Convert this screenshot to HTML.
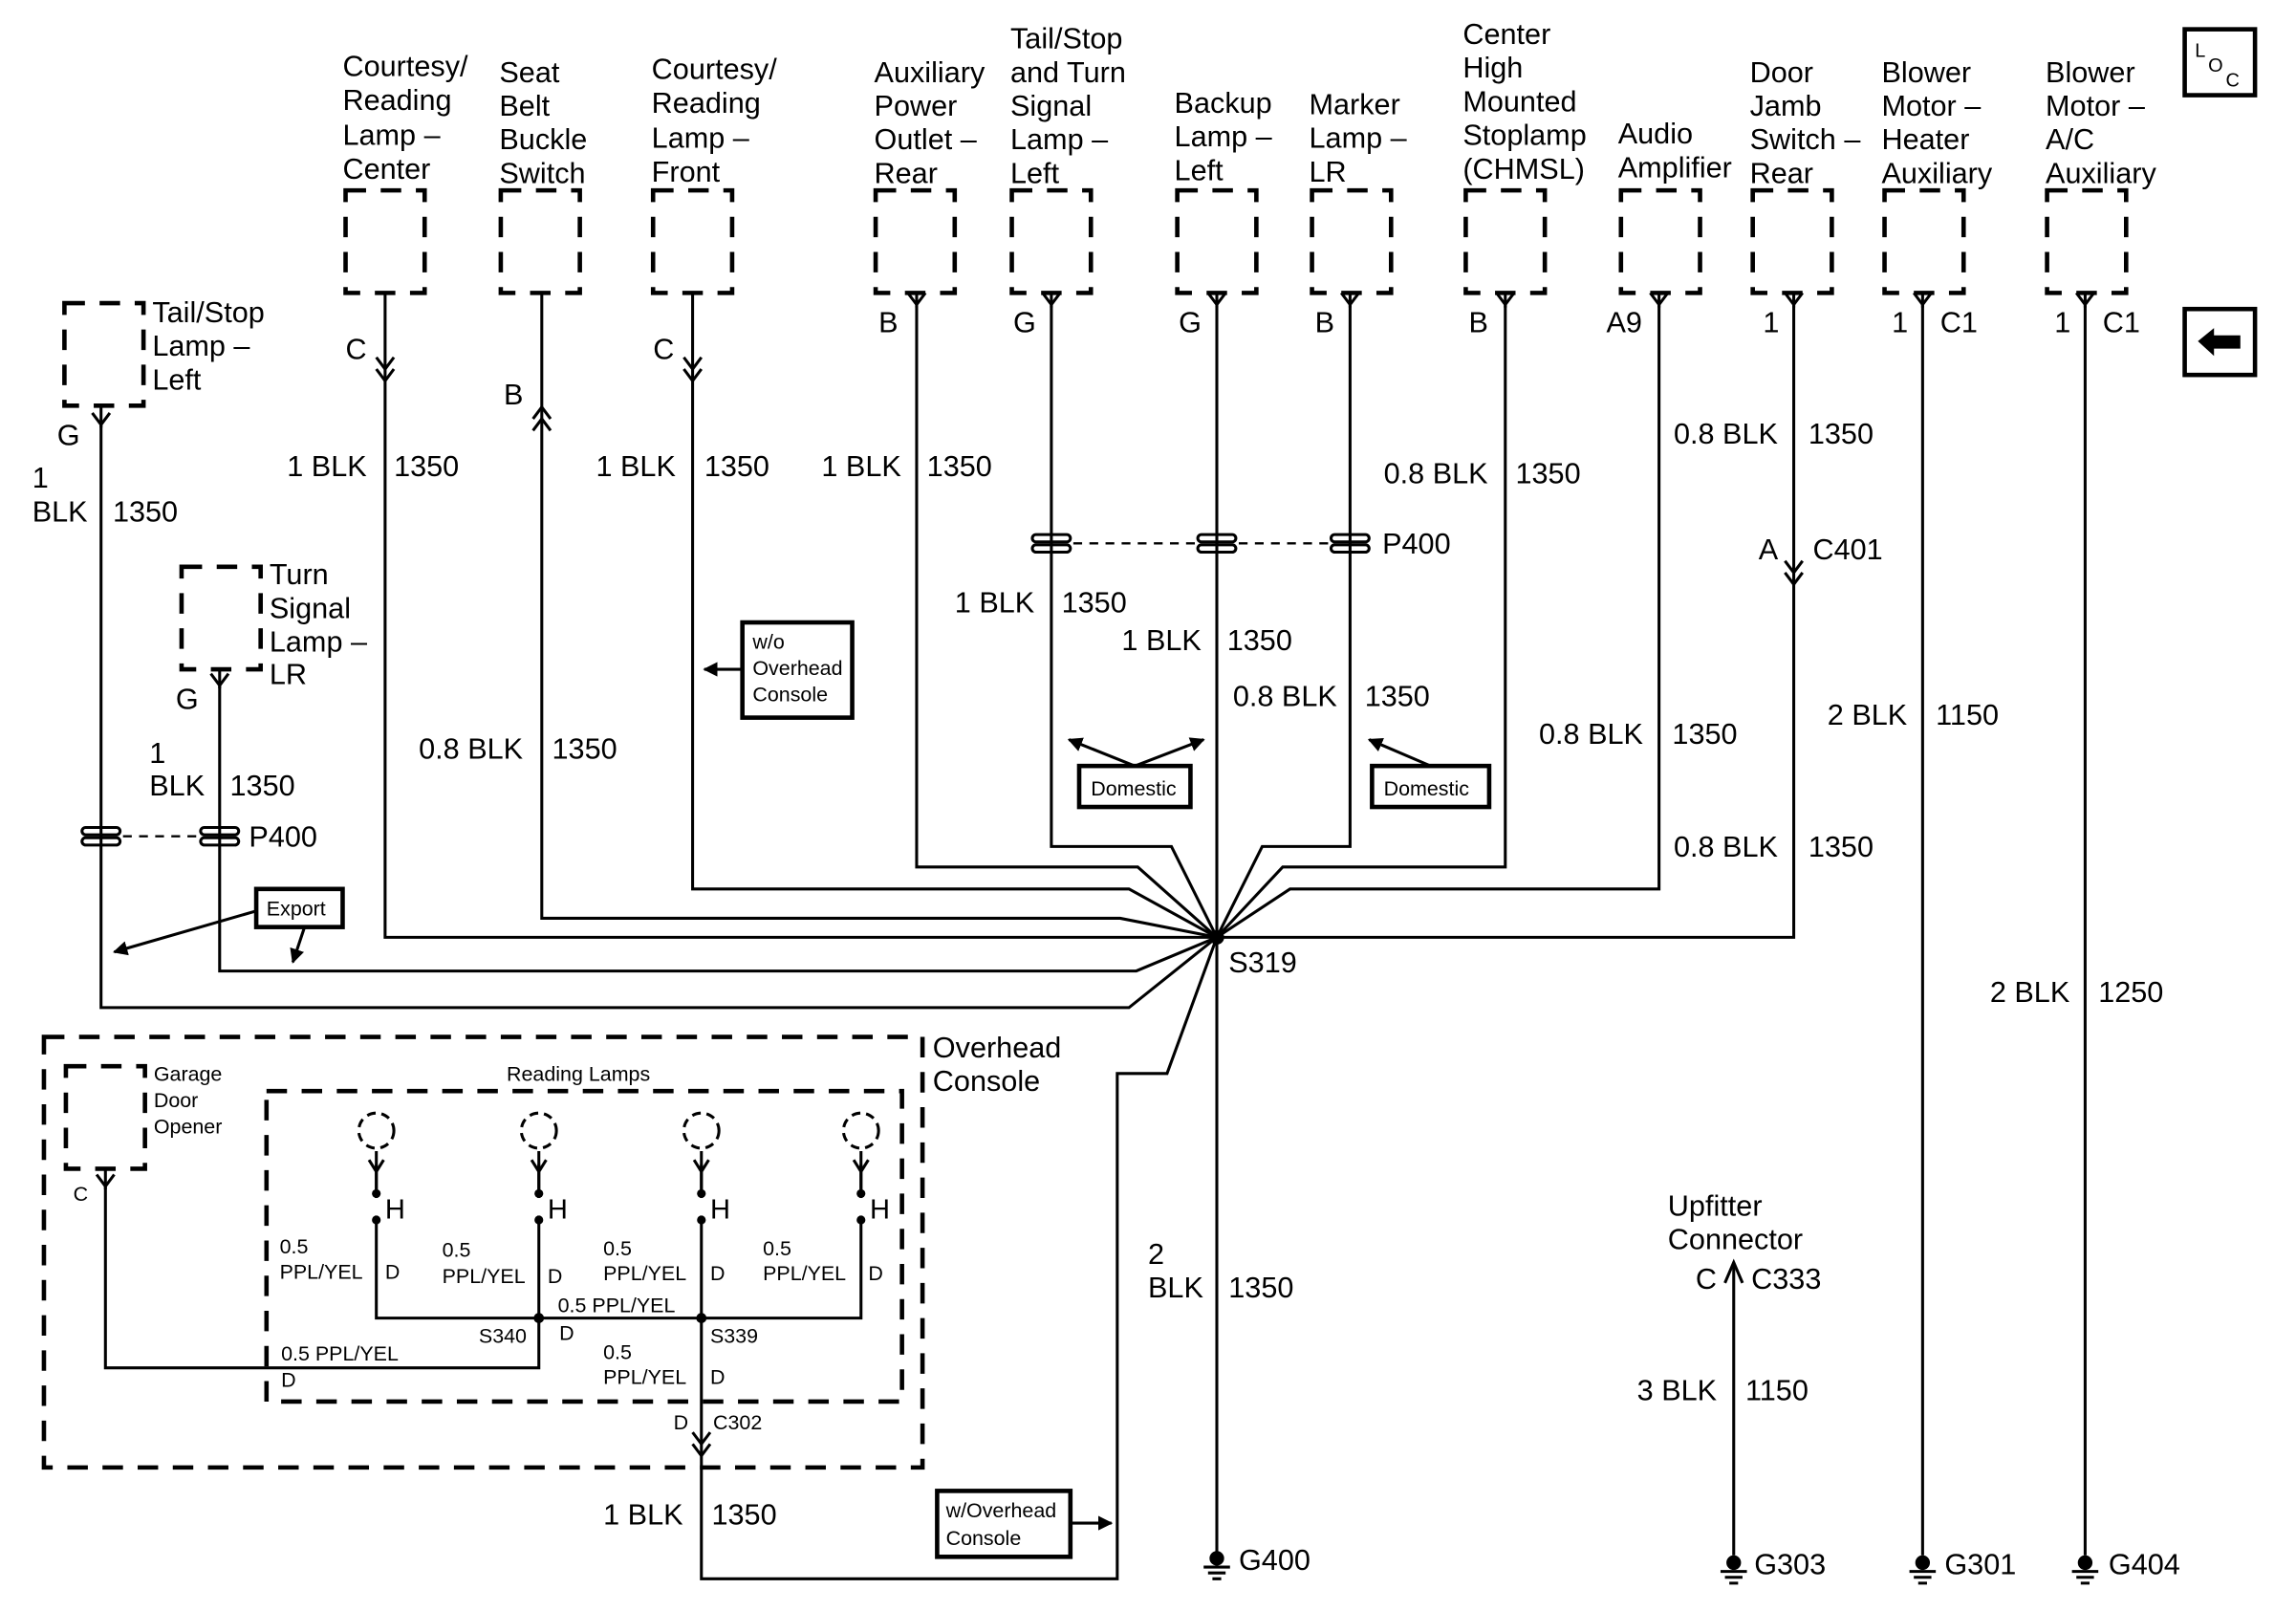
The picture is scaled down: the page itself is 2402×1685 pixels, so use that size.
<!DOCTYPE html>
<html><head><meta charset="utf-8"><style>
html,body{margin:0;padding:0;background:#fff;}
svg{display:block;}
text{font-family:"Liberation Sans",Arial,sans-serif;fill:#000;}
.t{font-size:20px;}
.s{font-size:14px;}
.w{stroke:#000;stroke-width:2;fill:none;}
.d{stroke:#000;stroke-width:3;fill:none;stroke-dasharray:14 10;}
.b{stroke:#000;stroke-width:3;fill:#fff;}
</style></head><body>
<svg width="2402" height="1685" viewBox="0 0 1568 1100" preserveAspectRatio="none" xmlns="http://www.w3.org/2000/svg">
<defs>
<g id="Y"><path d="M-6 -8 L0 0 L6 -8 M0 0 L0 2" class="w"/></g>
<g id="F"><path d="M-6 -14 L0 -6 L6 -14 M-6 -6 L0 2 L6 -6" class="w"/></g>
<g id="U"><path d="M-6 8 L0 0 L6 8 M-6 16 L0 8 L6 16" class="w"/></g>
<g id="P"><rect x="-13" y="-6" width="26" height="5" rx="2.5" class="w"/><rect x="-13" y="1" width="26" height="5" rx="2.5" class="w"/></g>
<g id="G"><circle cx="0" cy="0" r="5" fill="#000"/><path d="M-9 6 H9 M-6 10 H6 M-3 14 H3" class="w"/></g>
<marker id="ar" markerWidth="10" markerHeight="10" refX="9" refY="5" orient="auto" markerUnits="userSpaceOnUse"><path d="M0 0 L10 5 L0 10 Z" fill="#000"/></marker>
</defs>

<g class="d">
<rect x="236" y="130" width="54" height="70"/>
<rect x="342" y="130" width="54" height="70"/>
<rect x="446" y="130" width="54" height="70"/>
<rect x="598" y="130" width="54" height="70"/>
<rect x="691" y="130" width="54" height="70"/>
<rect x="804" y="130" width="54" height="70"/>
<rect x="896" y="130" width="54" height="70"/>
<rect x="1001" y="130" width="54" height="70"/>
<rect x="1107" y="130" width="54" height="70"/>
<rect x="1197" y="130" width="54" height="70"/>
<rect x="1287" y="130" width="54" height="70"/>
<rect x="1398" y="130" width="54" height="70"/>
<rect x="44" y="207" width="54" height="70"/>
<rect x="124" y="387" width="54" height="70"/>
</g>

<g class="t">
<text x="234" y="52">Courtesy/</text><text x="234" y="75">Reading</text><text x="234" y="99">Lamp –</text><text x="234" y="122">Center</text>
<text x="341" y="56">Seat</text><text x="341" y="79">Belt</text><text x="341" y="102">Buckle</text><text x="341" y="125">Switch</text>
<text x="445" y="54">Courtesy/</text><text x="445" y="77">Reading</text><text x="445" y="101">Lamp –</text><text x="445" y="124">Front</text>
<text x="597" y="56">Auxiliary</text><text x="597" y="79">Power</text><text x="597" y="102">Outlet –</text><text x="597" y="125">Rear</text>
<text x="690" y="33">Tail/Stop</text><text x="690" y="56">and Turn</text><text x="690" y="79">Signal</text><text x="690" y="102">Lamp –</text><text x="690" y="125">Left</text>
<text x="802" y="77">Backup</text><text x="802" y="100">Lamp –</text><text x="802" y="123">Left</text>
<text x="894" y="78">Marker</text><text x="894" y="101">Lamp –</text><text x="894" y="124">LR</text>
<text x="999" y="30">Center</text><text x="999" y="53">High</text><text x="999" y="76">Mounted</text><text x="999" y="99">Stoplamp</text><text x="999" y="122">(CHMSL)</text>
<text x="1105" y="98">Audio</text><text x="1105" y="121">Amplifier</text>
<text x="1195" y="56">Door</text><text x="1195" y="79">Jamb</text><text x="1195" y="102">Switch –</text><text x="1195" y="125">Rear</text>
<text x="1285" y="56">Blower</text><text x="1285" y="79">Motor –</text><text x="1285" y="102">Heater</text><text x="1285" y="125">Auxiliary</text>
<text x="1397" y="56">Blower</text><text x="1397" y="79">Motor –</text><text x="1397" y="102">A/C</text><text x="1397" y="125">Auxiliary</text>
<text x="104" y="220">Tail/Stop</text><text x="104" y="243">Lamp –</text><text x="104" y="266">Left</text>
<text x="184" y="399">Turn</text><text x="184" y="422">Signal</text><text x="184" y="445">Lamp –</text><text x="184" y="467">LR</text>
</g>

<rect x="1492" y="20" width="48" height="45" class="b"/>
<text x="1499" y="39" style="font-size:13px">L</text><text x="1508" y="49" style="font-size:13px">O</text><text x="1520" y="59" style="font-size:13px">C</text>
<rect x="1492" y="211" width="48" height="45" class="b"/>
<path d="M1501 233 L1512 224 L1512 229 L1530 229 L1530 238 L1512 238 L1512 243 Z" fill="#000"/>

<g class="w">
<path d="M263 200 V640 H831"/>
<path d="M370 200 V627 H765 L831 640"/>
<path d="M473 200 V607 H771 L831 640"/>
<path d="M626 200 V592 H777 L831 640"/>
<path d="M718 200 V578 H800 L831 640"/>
<path d="M831 200 V1060"/>
<path d="M922 200 V578 H862 L831 640"/>
<path d="M1028 200 V592 H876 L831 640"/>
<path d="M1133 200 V607 H881 L831 640"/>
<path d="M1225 200 V640 H831"/>
<path d="M1313 200 V1062"/>
<path d="M1424 200 V1062"/>
<path d="M69 277 V688 H771 L831 640"/>
<path d="M150 457 V663 H776 L831 640"/>
<path d="M72 798 V934 H368 V902"/>
<path d="M479 985 V1078 H763 V733 H797 L831 640"/>
<path d="M1184 862 V1062"/>
<path d="M257 795 V875 V900 H588 V875 V795"/>
<path d="M368 795 V900"/><path d="M479 795 V985"/>
</g>
<circle cx="831" cy="640" r="5" fill="#000"/>
<circle cx="368" cy="900" r="3.5" fill="#000"/><circle cx="479" cy="900" r="3.5" fill="#000"/>

<use href="#F" x="263" y="258"/><use href="#F" x="473" y="258"/>
<use href="#U" x="370" y="278"/>
<use href="#Y" x="626" y="208"/><use href="#Y" x="718" y="208"/><use href="#Y" x="831" y="208"/><use href="#Y" x="922" y="208"/>
<use href="#Y" x="1028" y="208"/><use href="#Y" x="1133" y="208"/><use href="#Y" x="1225" y="208"/><use href="#Y" x="1313" y="208"/><use href="#Y" x="1424" y="208"/>
<use href="#Y" x="69" y="290"/><use href="#Y" x="150" y="468"/><use href="#Y" x="72" y="810"/>
<use href="#F" x="1225" y="397"/><use href="#F" x="479" y="992"/>
<path d="M1178 876 L1184 862 L1190 876" class="w"/>
<use href="#P" x="69" y="571"/><use href="#P" x="150" y="571"/>
<use href="#P" x="718" y="371"/><use href="#P" x="831" y="371"/><use href="#P" x="922" y="371"/>
<path d="M84 571 H135 M733 371 H816 M846 371 H907" stroke="#000" stroke-width="1.5" stroke-dasharray="6 5"/>
<use href="#G" x="831" y="1064"/><use href="#G" x="1184" y="1067"/><use href="#G" x="1313" y="1067"/><use href="#G" x="1424" y="1067"/>

<g class="t">
<text x="236" y="245">C</text><text x="446" y="245">C</text><text x="344" y="276">B</text>
<text x="600" y="227">B</text><text x="692" y="227">G</text><text x="805" y="227">G</text><text x="898" y="227">B</text>
<text x="1003" y="227">B</text><text x="1097" y="227">A9</text><text x="1204" y="227">1</text>
<text x="1292" y="227">1</text><text x="1325" y="227">C1</text><text x="1403" y="227">1</text><text x="1436" y="227">C1</text>
<text x="39" y="304">G</text><text x="120" y="484">G</text>
<text x="196" y="325">1 BLK</text><text x="269" y="325">1350</text>
<text x="407" y="325">1 BLK</text><text x="481" y="325">1350</text>
<text x="561" y="325">1 BLK</text><text x="633" y="325">1350</text>
<text x="22" y="333">1</text><text x="22" y="356">BLK</text><text x="77" y="356">1350</text>
<text x="945" y="330">0.8 BLK</text><text x="1035" y="330">1350</text>
<text x="1143" y="303">0.8 BLK</text><text x="1235" y="303">1350</text>
<text x="944" y="378">P400</text>
<text x="1201" y="382">A</text><text x="1238" y="382">C401</text>
<text x="652" y="418">1 BLK</text><text x="725" y="418">1350</text>
<text x="766" y="444">1 BLK</text><text x="838" y="444">1350</text>
<text x="842" y="482">0.8 BLK</text><text x="932" y="482">1350</text>
<text x="1051" y="508">0.8 BLK</text><text x="1142" y="508">1350</text>
<text x="1248" y="495">2 BLK</text><text x="1322" y="495">1150</text>
<text x="1143" y="585">0.8 BLK</text><text x="1235" y="585">1350</text>
<text x="286" y="518">0.8 BLK</text><text x="377" y="518">1350</text>
<text x="102" y="521">1</text><text x="102" y="543">BLK</text><text x="157" y="543">1350</text>
<text x="170" y="578">P400</text>
<text x="839" y="664">S319</text>
<text x="1359" y="684">2 BLK</text><text x="1433" y="684">1250</text>
<text x="637" y="722">Overhead</text><text x="637" y="745">Console</text>
<text x="784" y="863">2</text><text x="784" y="886">BLK</text><text x="839" y="886">1350</text>
<text x="1139" y="830">Upfitter</text><text x="1139" y="853">Connector</text>
<text x="1158" y="880">C</text><text x="1196" y="880">C333</text>
<text x="1118" y="956">3 BLK</text><text x="1192" y="956">1150</text>
<text x="412" y="1041">1 BLK</text><text x="486" y="1041">1350</text>
<text x="846" y="1072">G400</text><text x="1198" y="1075">G303</text><text x="1328" y="1075">G301</text><text x="1440" y="1075">G404</text>
</g>

<g>
<rect x="507" y="425" width="75" height="65" class="b"/>
<text x="514" y="443" class="s">w/o</text><text x="514" y="461" class="s">Overhead</text><text x="514" y="479" class="s">Console</text>
<path d="M507 457 H481" class="w" marker-end="url(#ar)"/>
<rect x="737" y="523" width="76" height="28" class="b"/><text x="745" y="543" class="s">Domestic</text>
<path d="M775 523 L822 505" class="w" marker-end="url(#ar)"/>
<path d="M775 523 L730 505" class="w" marker-end="url(#ar)"/>
<rect x="937" y="523" width="80" height="28" class="b"/><text x="945" y="543" class="s">Domestic</text>
<path d="M977 523 L935 505" class="w" marker-end="url(#ar)"/>
<rect x="175" y="607" width="59" height="26" class="b"/><text x="182" y="625" class="s">Export</text>
<path d="M175 622 L78 650" class="w" marker-end="url(#ar)"/>
<path d="M208 633 L200 657" class="w" marker-end="url(#ar)"/>
<rect x="640" y="1018" width="91" height="45" class="b"/>
<text x="646" y="1036" class="s">w/Overhead</text><text x="646" y="1055" class="s">Console</text>
<path d="M731 1040 H759" class="w" marker-end="url(#ar)"/>
</g>

<rect x="30" y="708" width="600" height="294" class="d"/>
<rect x="182" y="745" width="434" height="212" class="d"/>
<rect x="45" y="728" width="54" height="70" class="d"/>
<g class="s">
<text x="105" y="738">Garage</text><text x="105" y="756">Door</text><text x="105" y="774">Opener</text>
<text x="50" y="820">C</text>
<text x="346" y="738">Reading Lamps</text>
</g>
<g>
<g transform="translate(257,0)">
<circle cx="0" cy="772" r="12" fill="none" stroke="#000" stroke-width="2" stroke-dasharray="6 4"/>
<path d="M-5 792 L0 800 L5 792 M0 786 V815" class="w"/>
<circle cx="0" cy="815" r="3" fill="#000"/><circle cx="0" cy="833" r="3" fill="#000"/>
<text x="6" y="832" class="t" style="font-size:19px">H</text>
</g>
<g transform="translate(368,0)">
<circle cx="0" cy="772" r="12" fill="none" stroke="#000" stroke-width="2" stroke-dasharray="6 4"/>
<path d="M-5 792 L0 800 L5 792 M0 786 V815" class="w"/>
<circle cx="0" cy="815" r="3" fill="#000"/><circle cx="0" cy="833" r="3" fill="#000"/>
<text x="6" y="832" class="t" style="font-size:19px">H</text>
</g>
<g transform="translate(479,0)">
<circle cx="0" cy="772" r="12" fill="none" stroke="#000" stroke-width="2" stroke-dasharray="6 4"/>
<path d="M-5 792 L0 800 L5 792 M0 786 V815" class="w"/>
<circle cx="0" cy="815" r="3" fill="#000"/><circle cx="0" cy="833" r="3" fill="#000"/>
<text x="6" y="832" class="t" style="font-size:19px">H</text>
</g>
<g transform="translate(588,0)">
<circle cx="0" cy="772" r="12" fill="none" stroke="#000" stroke-width="2" stroke-dasharray="6 4"/>
<path d="M-5 792 L0 800 L5 792 M0 786 V815" class="w"/>
<circle cx="0" cy="815" r="3" fill="#000"/><circle cx="0" cy="833" r="3" fill="#000"/>
<text x="6" y="832" class="t" style="font-size:19px">H</text>
</g>
</g>
<rect x="250" y="818" width="14" height="12" fill="#fff"/>
<rect x="361" y="818" width="14" height="12" fill="#fff"/>
<rect x="472" y="818" width="14" height="12" fill="#fff"/>
<rect x="581" y="818" width="14" height="12" fill="#fff"/>
<g class="s">
<text x="191" y="856">0.5</text><text x="191" y="873">PPL/YEL</text><text x="263" y="873">D</text>
<text x="302" y="858">0.5</text><text x="302" y="876">PPL/YEL</text><text x="374" y="876">D</text>
<text x="412" y="857">0.5</text><text x="412" y="874">PPL/YEL</text><text x="485" y="874">D</text>
<text x="521" y="857">0.5</text><text x="521" y="874">PPL/YEL</text><text x="593" y="874">D</text>
<text x="381" y="896">0.5 PPL/YEL</text>
<text x="327" y="917">S340</text><text x="382" y="915">D</text><text x="485" y="917">S339</text>
<text x="192" y="929">0.5 PPL/YEL</text><text x="192" y="947">D</text>
<text x="412" y="928">0.5</text><text x="412" y="945">PPL/YEL</text><text x="485" y="945">D</text>
<text x="460" y="976">D</text><text x="487" y="976">C302</text>
</g>
</svg>
</body></html>
